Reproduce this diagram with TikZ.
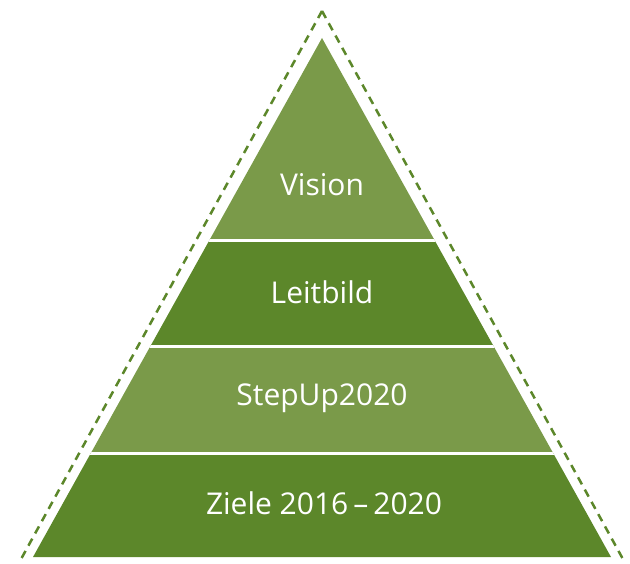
\documentclass[tikz,border=0pt]{standalone}
\usepackage{fontspec}
\setmainfont{Open Sans}
\definecolor{darkg}{HTML}{5C872A}
\definecolor{lightg}{HTML}{7A9A49}
\tikzset{
  lbl/.style={text=white, font=\fontsize{30}{34}\selectfont, anchor=center, inner sep=0pt},
  sep/.style={white, line width=3pt},
  outline/.style={darkg, line width=2.5pt, dash pattern=on 8pt off 6pt}
}
\begin{document}
\begin{tikzpicture}[x=1pt,y=-1pt]
\useasboundingbox (0,0) rectangle (630,564);
\coordinate (A) at (322,38);
\coordinate (BL) at (33,557);
\coordinate (BR) at (611,557);
\begin{scope}
\clip (A) -- (BL) -- (BR) -- cycle;
\fill[lightg] (0,0) rectangle (630,241);
\fill[darkg] (0,241) rectangle (630,347);
\fill[lightg] (0,347) rectangle (630,453);
\fill[darkg] (0,453) rectangle (630,564);
\draw[sep] (0,241) -- (630,241);
\draw[sep] (0,347) -- (630,347);
\draw[sep] (0,453) -- (630,453);
\end{scope}
\coordinate (T) at (322,11);
\coordinate (L) at (20,561);
\coordinate (R) at (624,561);
\draw[outline] (T) -- (L);
\draw[outline] (T) -- (R);
\node[lbl] (vision) at (322,185) {Vision};
\node[lbl] (leitbild) at (322,292) {Leitbild};
\node[lbl] (stepup) at (322,398) {StepUp2020};
\node[lbl] (ziele) at (324,503) {Ziele 2016\,–\,2020};
\end{tikzpicture}
\end{document}
